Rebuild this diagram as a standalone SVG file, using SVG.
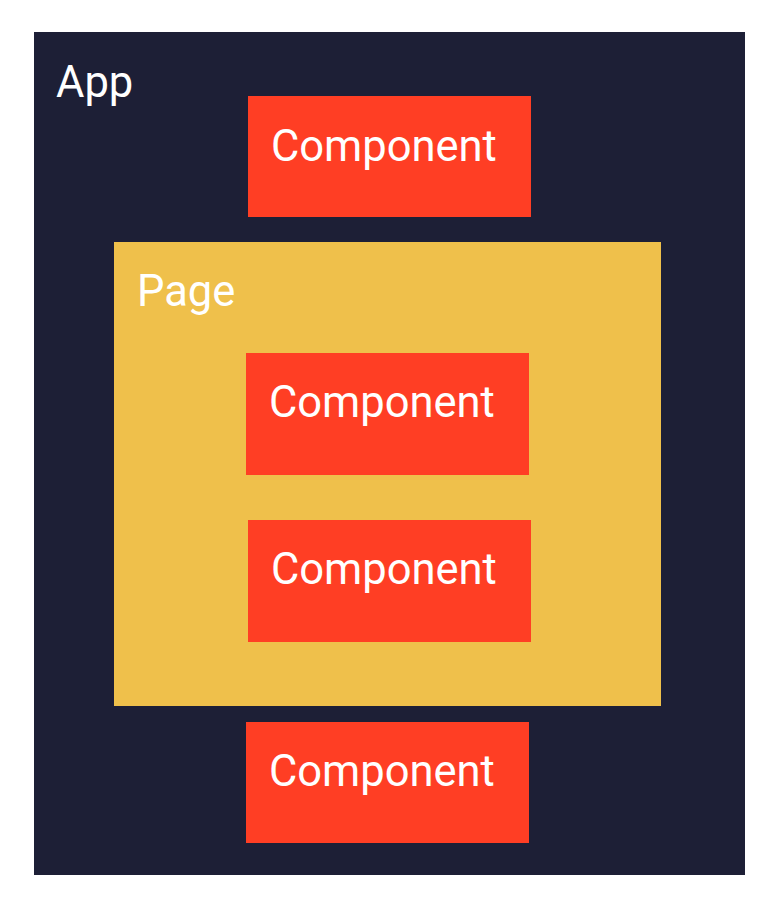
<svg xmlns="http://www.w3.org/2000/svg" width="779" height="902" viewBox="0 0 779 902">
  <style>
    .label { font-family: Roboto, "Liberation Sans", sans-serif; font-size: 43.5px; fill: #ffffff; }
    .app { fill: #1d1f36; }
    .page { fill: #efc04b; }
    .comp { fill: #ff3e24; }
  </style>
  <rect width="779" height="902" fill="#ffffff"/>

  <g id="app">
    <rect class="app" x="34" y="32" width="711" height="843"/>
    <text class="label" x="56" y="97">App</text>
  </g>

  <g id="component-top">
    <rect class="comp" x="248" y="96" width="283" height="121"/>
    <text class="label" x="271" y="161">Component</text>
  </g>

  <g id="page">
    <rect class="page" x="114" y="242" width="547" height="464"/>
    <text class="label" x="137" y="306">Page</text>
  </g>

  <g id="component-page-1">
    <rect class="comp" x="246" y="353" width="283" height="122"/>
    <text class="label" x="269" y="417">Component</text>
  </g>

  <g id="component-page-2">
    <rect class="comp" x="248" y="520" width="283" height="122"/>
    <text class="label" x="271" y="584">Component</text>
  </g>

  <g id="component-bottom">
    <rect class="comp" x="246" y="722" width="283" height="121"/>
    <text class="label" x="269" y="786">Component</text>
  </g>

  <g id="connectors"/>
</svg>
